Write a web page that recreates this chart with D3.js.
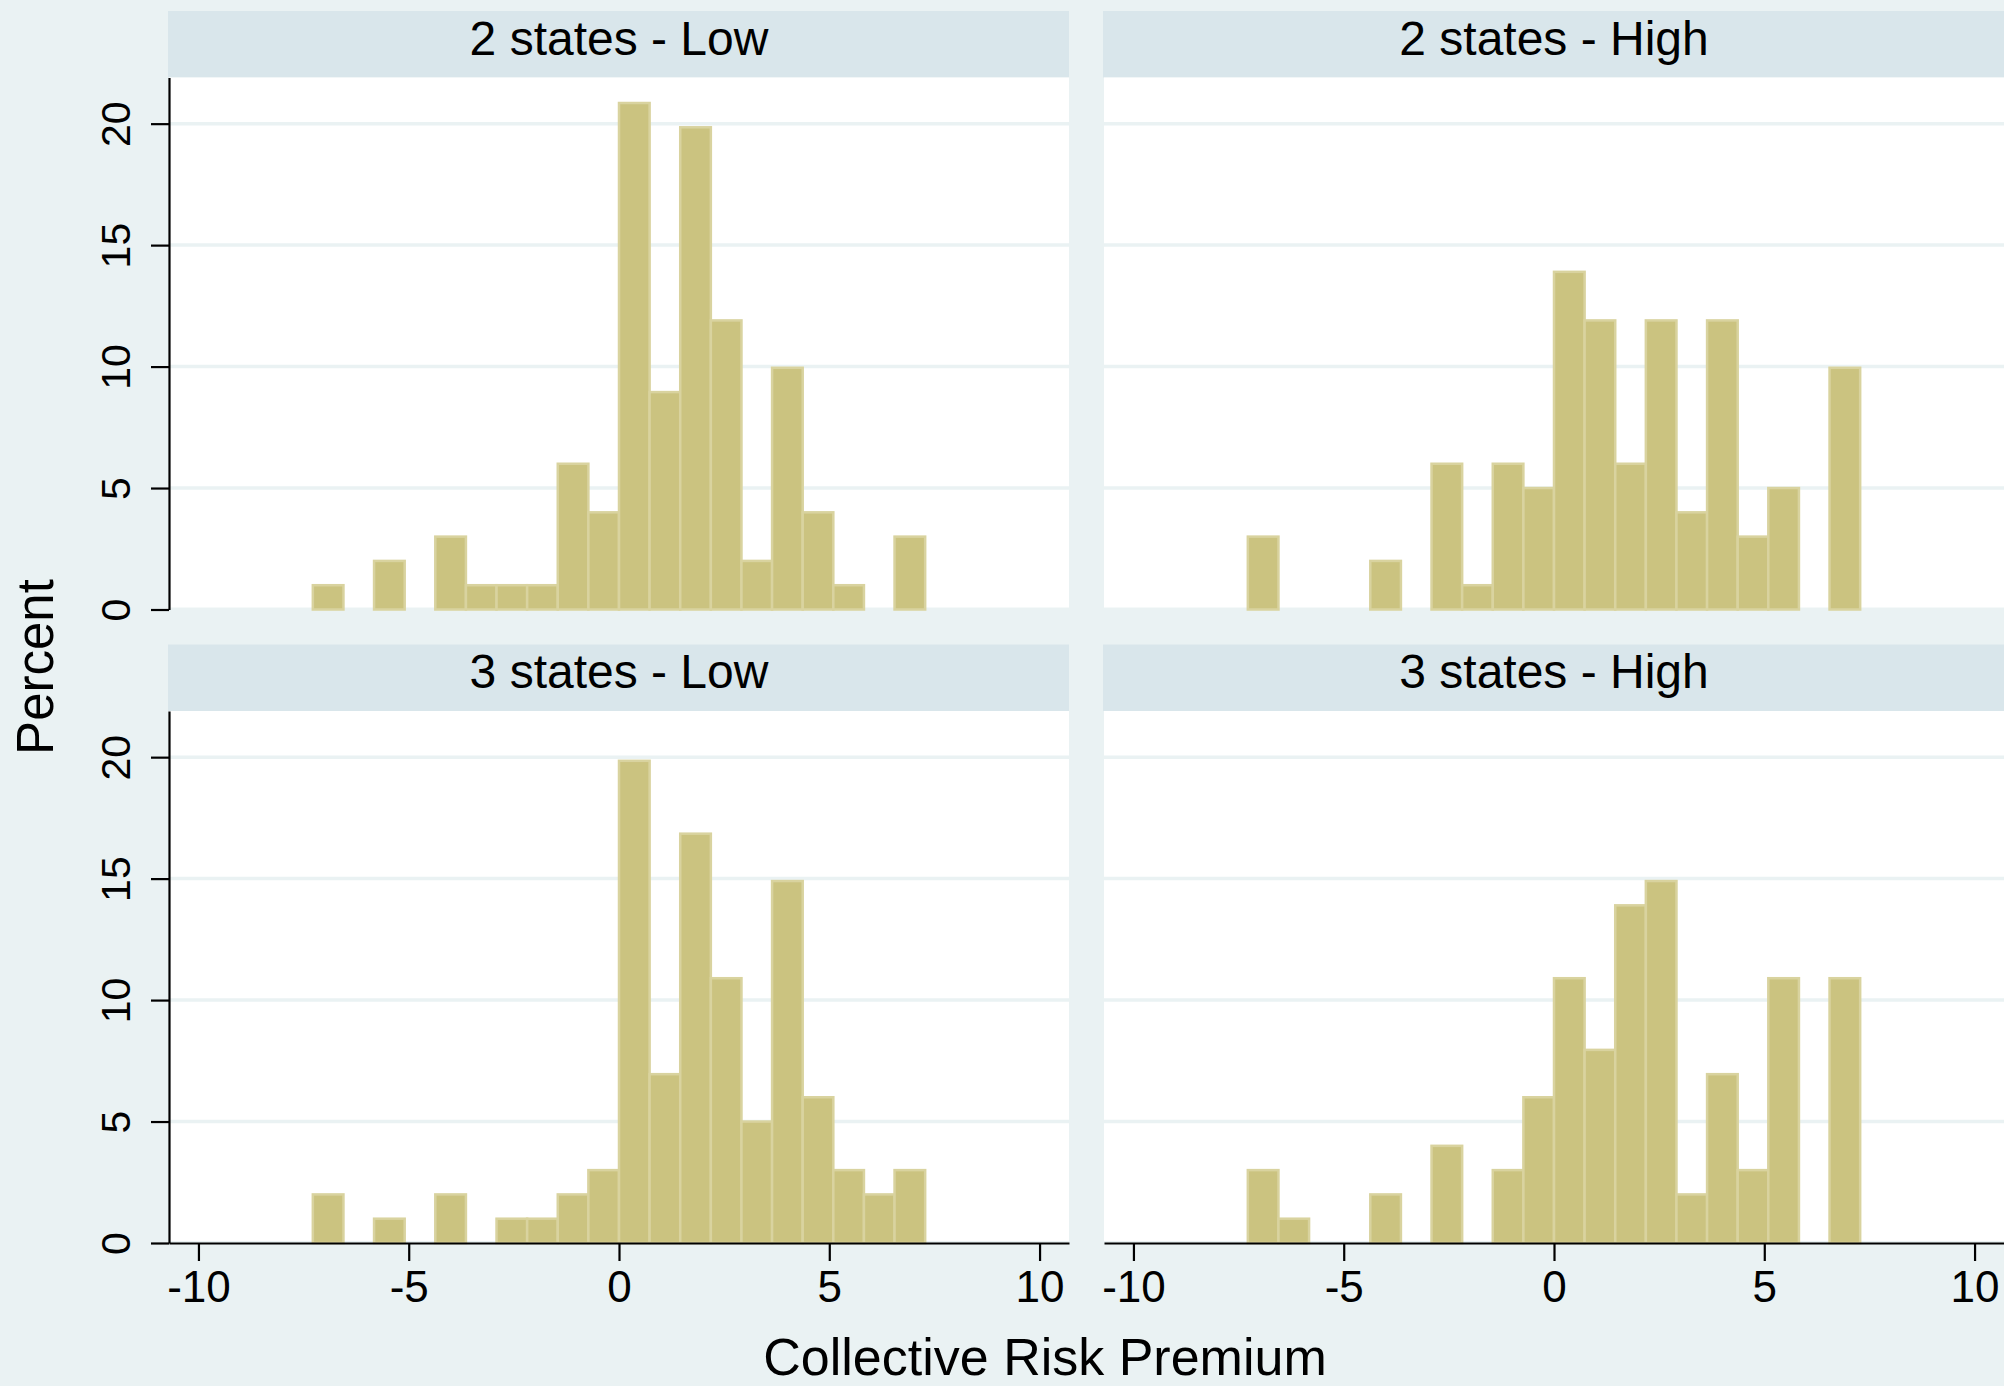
<!DOCTYPE html>
<html>
<head>
<meta charset="utf-8">
<script src="https://cdn.jsdelivr.net/npm/d3@7"></script>
<style>
  body { margin: 0; background: #eaf2f3; }
  text { font-family: "Liberation Sans", Arial, sans-serif; fill: #000; }
</style>
</head>
<body>
<div id="histChart"></div>
<script>
// histogram bin edges (shared by all four panels)
let binEdges = [-7.28, -6.552, -5.824, -5.096, -4.368, -3.64, -2.912, -2.184, -1.456, -0.728,
                0, 0.728, 1.456, 2.184, 2.912, 3.64, 4.368, 5.096, 5.824, 6.552, 7.28];

let panelTitles = ["2 states - Low", "2 states - High", "3 states - Low", "3 states - High"];

// percent per bin
let twoStatesLow    = [1, 0, 2, 0, 3, 1, 1, 1, 6, 4, 20.85, 8.95, 19.85, 11.9, 2, 9.95, 4, 1, 0, 3];
let twoStatesHigh   = [3, 0, 0, 0, 2, 0, 6, 1, 6, 5, 13.9, 11.9, 6, 11.9, 4, 11.9, 3, 5, 0, 9.95];
let threeStatesLow  = [2, 0, 1, 0, 2, 0, 1, 1, 2, 3, 19.85, 6.95, 16.85, 10.9, 5, 14.9, 6, 3, 2, 3];
let threeStatesHigh = [3, 1, 0, 0, 2, 0, 4, 0, 3, 6, 10.9, 7.95, 13.9, 14.9, 2, 6.95, 3, 10.9, 0, 10.9];

let yTicks = [0, 5, 10, 15, 20];
let xTicks = [-10, -5, 0, 5, 10];
let xTitle = "Collective Risk Premium";
let yTitle = "Percent";

let series = [twoStatesLow, twoStatesHigh, threeStatesLow, threeStatesHigh];


function histPanels() {
    let width = 2004, height = 1386;
    let colX = [169, 1104];
    let rowTop = [11, 644.5];
    let plotW = 900, stripH = 66.5, plotH = 532;

    let svg = d3.select("#histChart").append("svg")
                .attr("width", width)
                .attr("height", height);

    svg.append("rect")
       .attr("width", width)
       .attr("height", height)
       .attr("fill", "#eaf2f3");

    series.forEach(function(values, i) {
        let col = i % 2, row = Math.floor(i / 2);
        let x0 = colX[col], top = rowTop[row];
        let plotTop = top + stripH, plotBottom = plotTop + plotH;

        let xScale = d3.scaleLinear().domain([-10.7, 10.7]).range([x0, x0 + plotW]);
        let yScale = d3.scaleLinear().domain([0, 21.9]).range([plotBottom, plotTop]);

        // strip
        svg.append("rect")
           .attr("x", x0 - 1).attr("y", top)
           .attr("width", plotW + 1).attr("height", stripH)
           .attr("fill", "#d9e6eb");

        svg.append("text")
           .attr("x", x0 + plotW / 2)
           .attr("y", top + 43.5)
           .attr("text-anchor", "middle")
           .attr("font-size", 48)
           .text(panelTitles[i]);

        // plot region
        svg.append("rect")
           .attr("x", x0).attr("y", plotTop)
           .attr("width", plotW).attr("height", plotH - 2)
           .attr("fill", "#ffffff");

        svg.append("g")
           .selectAll("line")
           .data(yTicks.filter(function(d) { return d > 0 }))
           .enter()
           .append("line")
           .attr("x1", x0).attr("x2", x0 + plotW)
           .attr("y1", function(d) { return yScale(d) })
           .attr("y2", function(d) { return yScale(d) })
           .attr("stroke", "#eaf2f3")
           .attr("stroke-width", 3.5);

        let bins = values.map(function(v, k) { return {x0: binEdges[k], x1: binEdges[k + 1], v: v} })
                         .filter(function(d) { return d.v > 0 });

        svg.append("g")
           .selectAll("rect")
           .data(bins)
           .enter()
           .append("rect")
           .attr("x", function(d) { return xScale(d.x0) })
           .attr("width", function(d) { return xScale(d.x1) - xScale(d.x0) })
           .attr("y", function(d) { return yScale(d.v) })
           .attr("height", function(d) { return yScale(0) - yScale(d.v) })
           .attr("fill", "#cbc380")
           .attr("stroke", "#d9d39f")
           .attr("stroke-width", 2.5);

        if (col == 0) {
            let yAxis = d3.axisLeft(yScale)
                .tickValues(yTicks)
                .tickFormat(function(d) { return String(d) })
                .tickSize(18)
                .tickSizeOuter(0);

            let g = svg.append("g")
                .attr("transform", "translate(" + x0 + ",0)")
                .call(yAxis);
            g.select(".domain").attr("stroke-width", 2.2);
            g.selectAll(".tick line").attr("stroke-width", 2.2);
            g.selectAll(".tick text")
             .attr("font-size", 41)
             .attr("font-family", "Liberation Sans, Arial, sans-serif")
             .attr("fill", "#000")
             .attr("transform", "rotate(-90)")
             .attr("text-anchor", "middle")
             .attr("x", 0)
             .attr("y", -39.5)
             .attr("dy", 0);
        }

        if (row == 1) {
            // plain hyphen for negatives, like the source
            let xAxis = d3.axisBottom(xScale)
                .tickValues(xTicks)
                .tickFormat(function(d) { return String(d) })
                .tickSize(18)
                .tickSizeOuter(0);

            let g = svg.append("g")
                .attr("transform", "translate(0," + plotBottom + ")")
                .call(xAxis);
            g.select(".domain").attr("stroke-width", 2.2);
            g.selectAll(".tick line").attr("stroke-width", 2.2);
            g.selectAll(".tick text")
             .attr("font-size", 44)
             .attr("font-family", "Liberation Sans, Arial, sans-serif")
             .attr("fill", "#000")
             .attr("y", 59)
             .attr("dy", 0);
        }
    });

    svg.append("text")
       .attr("transform", "translate(53,667) rotate(-90)")
       .attr("text-anchor", "middle")
       .attr("font-size", 51)
       .text(yTitle);

    svg.append("text")
       .attr("x", 1045)
       .attr("y", 1375)
       .attr("text-anchor", "middle")
       .attr("font-size", 52)
       .text(xTitle);
}

histPanels();
</script>
</body>
</html>
